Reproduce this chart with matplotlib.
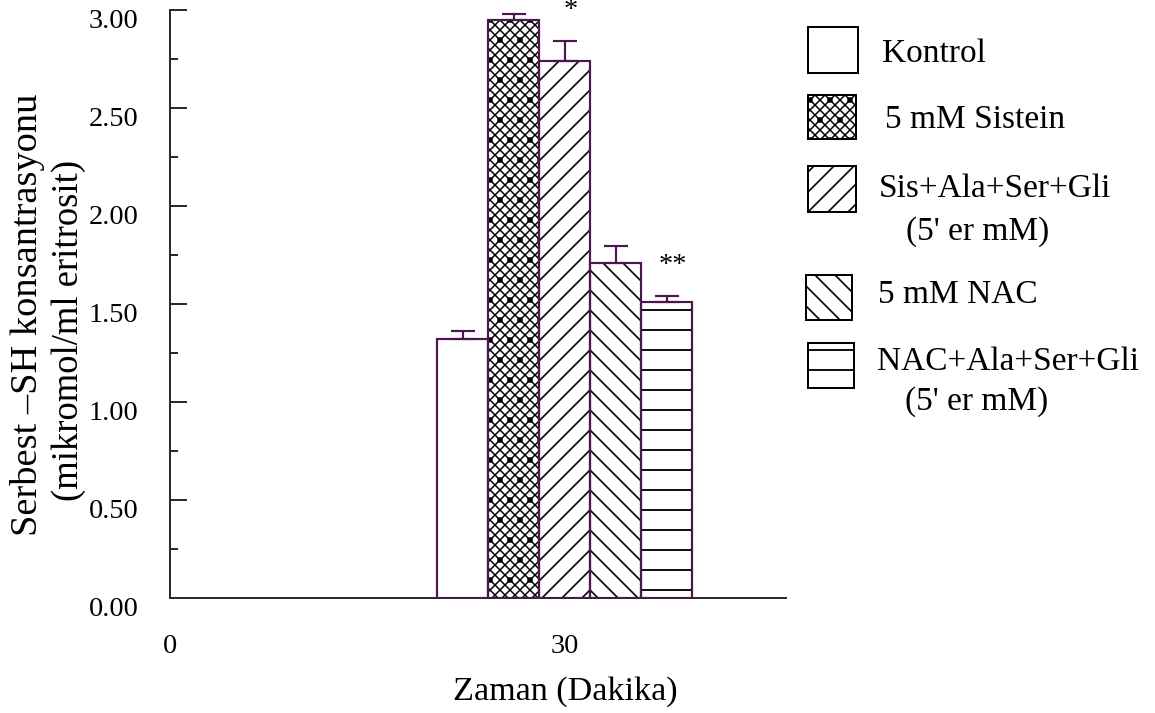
import matplotlib
matplotlib.use("Agg")
import matplotlib.pyplot as plt
import numpy as np
from matplotlib.patches import Rectangle

plt.rcParams["font.family"] = ["Liberation Serif", "DejaVu Serif"]
plt.rcParams["hatch.linewidth"] = 1.0

# ---- data -------------------------------------------------------------
time_point = 30                      # dakika
groups = ["Kontrol", "5 mM Sistein", "Sis+Ala+Ser+Gli\n(5' er mM)",
          "5 mM NAC", "NAC+Ala+Ser+Gli\n(5' er mM)"]
means = [1.32, 2.95, 2.74, 1.71, 1.51]
sems = [0.04, 0.03, 0.10, 0.085, 0.03]
marks = ["", "", "*", "", "**"]
yticks = [0.00, 0.50, 1.00, 1.50, 2.00, 2.50, 3.00]
xticks = [0, 30]

# ---- style ------------------------------------------------------------
hatches = ["", "xxxx.", "//", "\\\\", "-"]
hatch_lw = [1.0, 0.9, 1.0, 1.0, 1.1]
PURPLE = "#4d1650"
AXIS = "#2b2b2b"
DPI = 120
W, H = 1155, 713
bar_w = 3.875

fig = plt.figure(figsize=(W / DPI, H / DPI), dpi=DPI)
fig.patch.set_facecolor("white")
ax = fig.add_axes([170 / W, 1 - 598 / H, (786 - 170) / W, (598 - 10) / H])

x = time_point + (np.arange(len(means)) - (len(means) - 1) / 2) * bar_w

# hatch layer in black, then purple outlines on top
for xi, m, h, hl in zip(x, means, hatches, hatch_lw):
    with plt.rc_context({"hatch.linewidth": hl}):
        ax.bar(xi, m, bar_w, color="white", edgecolor="black", linewidth=0,
               hatch=h, zorder=2)
ax.bar(x, means, bar_w, fill=False, edgecolor=PURPLE, linewidth=1.3, zorder=3)
ax.errorbar(x, means, yerr=[np.zeros(len(sems)), sems], fmt="none",
            ecolor=PURPLE, elinewidth=1.3, capsize=7.2, capthick=1.3, zorder=3)

for xi, m, s, mk in zip(x, means, sems, marks):
    if mk:
        ax.annotate(mk, xy=(xi, m + s), xytext=(3.6, 14.5),
                    textcoords="offset points", ha="center", va="baseline",
                    fontsize=17, annotation_clip=False)

ax.set_xlim(0, 46.8)
ax.set_ylim(0, 3.0)
for side in ("top", "right"):
    ax.spines[side].set_visible(False)
for side in ("left", "bottom"):
    ax.spines[side].set_color(AXIS)
    ax.spines[side].set_linewidth(1.2)

ax.set_yticks(yticks)
ax.set_yticks(np.array(yticks[:-1]) + 0.25, minor=True)
ax.tick_params(axis="y", which="major", direction="in", length=10.2,
               width=1.2, color=AXIS, labelleft=False)
ax.tick_params(axis="y", which="minor", direction="in", length=4.8,
               width=1.2, color=AXIS)
for v in yticks:
    ax.annotate(f"{v:.2f}", xy=(0, v), xycoords=("axes fraction", "data"),
                xytext=(-19, 0.3), textcoords="offset points",
                ha="right", va="top", fontsize=17, annotation_clip=False)

ax.set_xticks(xticks)
ax.set_xticklabels([str(t) for t in xticks])
ax.tick_params(axis="x", length=0, pad=21.5, labelsize=17)

fig.text(565 / W, 1 - 700 / H, "Zaman (Dakika)", ha="center",
         va="baseline", fontsize=20.5)
fig.text(37 / W, 1 - 315 / H, "Serbest \u2013SH konsantrasyonu", rotation=90,
         rotation_mode="anchor", ha="center", va="baseline", fontsize=23)
fig.text(78 / W, 1 - 330 / H, "(mikromol/ml eritrosit)", rotation=90,
         rotation_mode="anchor", ha="center", va="baseline", fontsize=22)

# ---- legend -----------------------------------------------------------
boxes = [(808, 27, 858, 73), (808, 95, 856, 139), (808, 166, 856, 212),
         (806, 275, 852, 320), (808, 343, 854, 388)]
first_line = [(882, 62), (885, 128), (879, 197), (878, 303), (877, 370)]
second_line = [None, None, (906, 240), None, (905, 410)]
for lab, h, hl, (x0, y0, x1, y1), p1, p2 in zip(groups, hatches, hatch_lw,
                                                 boxes, first_line,
                                                 second_line):
    with plt.rc_context({"hatch.linewidth": hl}):
        fig.add_artist(Rectangle((x0 / W, 1 - y1 / H), (x1 - x0) / W,
                                 (y1 - y0) / H, transform=fig.transFigure,
                                 facecolor="white", edgecolor="black",
                                 linewidth=1.2, hatch=h))
    lines = lab.split("\n")
    fig.text(p1[0] / W, 1 - p1[1] / H, lines[0], ha="left", va="baseline",
             fontsize=20)
    if p2 is not None:
        fig.text(p2[0] / W, 1 - p2[1] / H, lines[1], ha="left",
                 va="baseline", fontsize=20)

fig.savefig("out.png", dpi=DPI)
